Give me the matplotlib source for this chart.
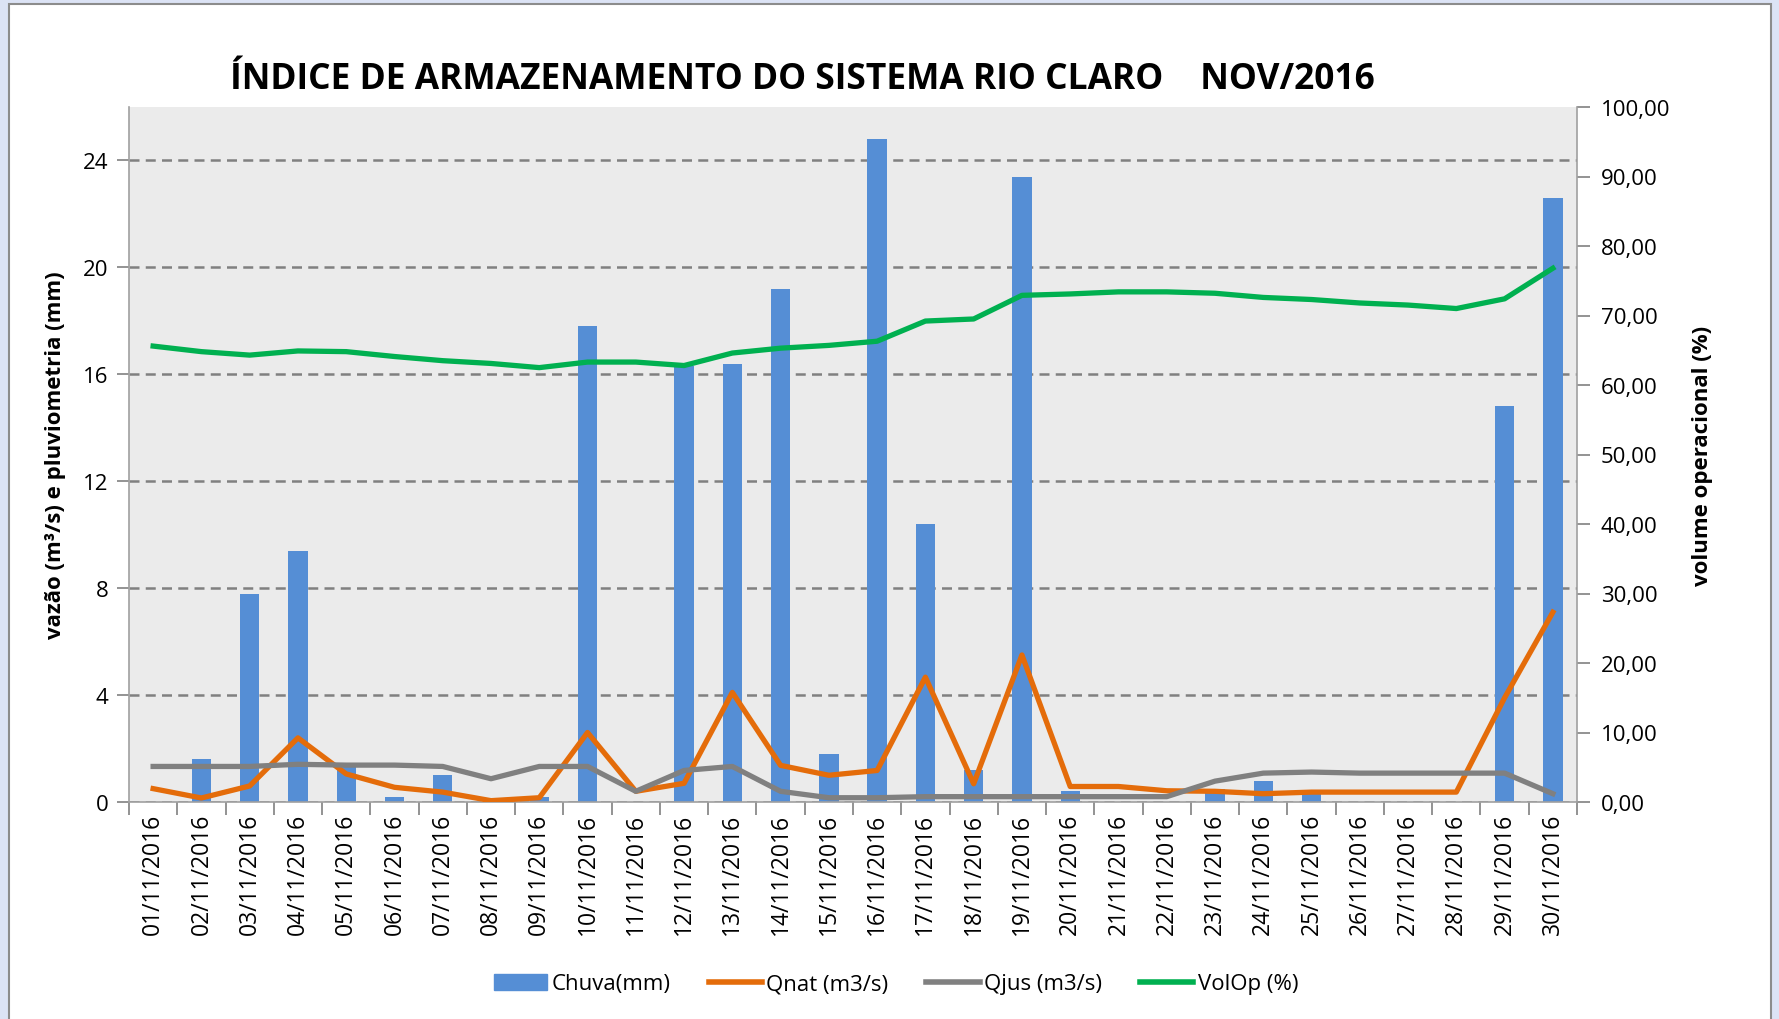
import matplotlib
matplotlib.use('Agg')
import matplotlib.pyplot as plt
from matplotlib.patches import Rectangle
from matplotlib.lines import Line2D
import numpy as np

# Dados (novembro/2016)
datas = [f"{d:02d}/11/2016" for d in range(1, 31)]
chuva = [0, 1.6, 7.8, 9.4, 1.4, 0.2, 1.0, 0, 0.2, 17.8,
         0, 16.3, 16.4, 19.2, 1.8, 24.8, 10.4, 1.2, 23.4, 0.4,
         0, 0, 0.5, 0.8, 0.4, 0, 0, 0, 14.8, 22.6]
qnat = [0.5, 0.15, 0.6, 2.4, 1.05, 0.55, 0.37, 0.05, 0.16, 2.6,
        0.4, 0.7, 4.1, 1.37, 1.0, 1.18, 4.67, 0.68, 5.5, 0.58,
        0.58, 0.42, 0.4, 0.31, 0.37, 0.37, 0.37, 0.37, 3.9, 7.1]
qjus = [1.33, 1.33, 1.33, 1.41, 1.38, 1.38, 1.33, 0.87, 1.33, 1.33,
        0.4, 1.18, 1.33, 0.4, 0.16, 0.16, 0.2, 0.2, 0.2, 0.2,
        0.2, 0.2, 0.78, 1.08, 1.12, 1.08, 1.08, 1.08, 1.08, 0.31]
volop = [65.6, 64.8, 64.3, 64.9, 64.8, 64.1, 63.5, 63.1, 62.5, 63.3,
         63.3, 62.8, 64.6, 65.3, 65.7, 66.3, 69.2, 69.5, 72.9, 73.1,
         73.4, 73.4, 73.2, 72.6, 72.3, 71.8, 71.5, 71.0, 72.4, 76.8]

cor_chuva = '#558ED5'
cor_qnat = '#E46C0A'
cor_qjus = '#808080'
cor_vol = '#00B050'

fonte = ['Open Sans', 'DejaVu Sans']

fig = plt.figure(figsize=(17.79, 10.20), dpi=100, facecolor='#DCE3F5')
# moldura branca da área do gráfico (atrás dos eixos)
fig.patches.append(Rectangle((9/1779, -0.02), (1771-9)/1779, 1.02 - 5/1020,
                             transform=fig.transFigure, facecolor='white',
                             edgecolor='#8C8C8C', linewidth=1.5, zorder=-10))

ax = fig.add_axes([129/1779, 1 - 803/1020, (1577-129)/1779, (803-108)/1020])
ax.set_facecolor('#EBEBEB')
x = np.arange(len(datas))

ax.bar(x, chuva, 0.4, color=cor_chuva, zorder=2)
ax.plot(x, qnat, color=cor_qnat, lw=3.8, zorder=3)
ax.plot(x, qjus, color=cor_qjus, lw=3.8, zorder=3)

ax.set_xlim(-0.5, len(datas) - 0.5)
ax.set_ylim(0, 26)
ax.set_yticks(np.arange(0, 25, 4))
ax.yaxis.grid(True, linestyle=(0, (4, 2.5)), color='#808080', lw=1.8, zorder=1)
ax.set_axisbelow(True)

ax.set_xticks(x)
ax.set_xticklabels(datas, rotation=90, fontsize=16.5, family=fonte)
ax.set_xticks(np.arange(-0.5, len(datas), 1), minor=True)
ax.tick_params(axis='x', which='major', length=0, pad=8)
ax.tick_params(axis='x', which='minor', length=9, color='#808080', width=1.2)
ax.tick_params(axis='y', length=9, color='#808080', width=1.2, labelsize=16, pad=6)
for lbl in ax.get_yticklabels():
    lbl.set_family(fonte)

for lado in ['top', 'right']:
    ax.spines[lado].set_visible(False)
for lado in ['left', 'bottom']:
    ax.spines[lado].set_color('#A0A0A0')
    ax.spines[lado].set_linewidth(1.2)

ax2 = ax.twinx()
ax2.plot(x, volop, color=cor_vol, lw=3.8, zorder=4)
ax2.set_ylim(0, 100)
ax2.set_yticks(np.arange(0, 101, 10))
ax2.set_yticklabels([f"{v:.2f}".replace('.', ',') for v in np.arange(0, 101, 10)],
                    fontsize=16, family=fonte)
ax2.tick_params(axis='y', length=9, color='#808080', width=1.2, pad=8)
for lado in ['top', 'left', 'bottom']:
    ax2.spines[lado].set_visible(False)
ax2.spines['right'].set_color('#A0A0A0')
ax2.spines['right'].set_linewidth(1.2)

ax.set_ylabel('vazão (m³/s) e pluviometria (mm)', fontsize=16, fontweight='bold',
              family=fonte, labelpad=12)
ax2.set_ylabel('volume operacional (%)', fontsize=16, fontweight='bold',
               family=fonte, labelpad=16)

fig.text(802/1779, 1 - 80/1020,
         'ÍNDICE DE ARMAZENAMENTO DO SISTEMA RIO CLARO    NOV/2016',
         ha='center', va='center', fontsize=25.5, fontweight='bold', family=fonte)

handles = [Rectangle((0, 0), 1, 1, color=cor_chuva),
           Line2D([], [], color=cor_qnat, lw=4),
           Line2D([], [], color=cor_qjus, lw=4),
           Line2D([], [], color=cor_vol, lw=4)]
labels = ['Chuva(mm)', 'Qnat (m3/s)', 'Qjus (m3/s)', 'VolOp (%)']
fig.legend(handles, labels, loc='center', bbox_to_anchor=(896/1779, 1 - 985/1020),
           ncol=4, frameon=False, prop={'family': fonte, 'size': 16},
           handlelength=2.4, handletextpad=0.2, columnspacing=1.7)

plt.savefig('out.png', dpi=100, facecolor=fig.get_facecolor())
plt.close()
